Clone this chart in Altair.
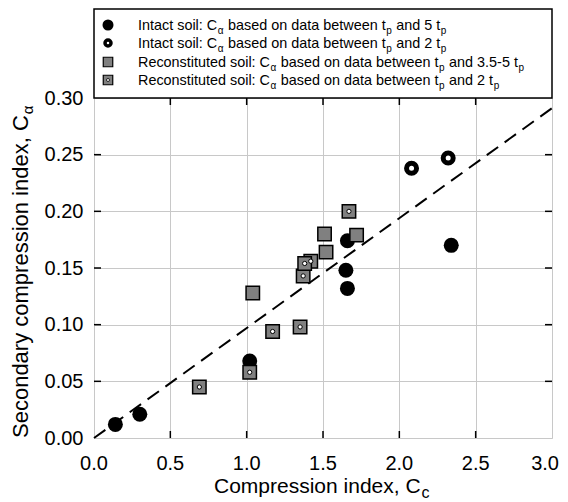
import altair as alt
import pandas as pd

# ---------------- data ----------------
intact5_x = [0.14, 0.30, 1.02, 1.66, 1.65, 1.66, 2.34]
intact5_y = [0.012, 0.021, 0.068, 0.174, 0.148, 0.132, 0.170]
intact2_x = [2.08, 2.32]
intact2_y = [0.238, 0.247]
recon5_x = [1.04, 1.51, 1.52, 1.72]
recon5_y = [0.128, 0.180, 0.164, 0.179]
recon2_x = [0.69, 1.02, 1.17, 1.35, 1.42, 1.37, 1.38, 1.67]
recon2_y = [0.045, 0.058, 0.094, 0.098, 0.156, 0.143, 0.154, 0.200]
line_x = [0.0, 3.0]
line_y = [0.0, 0.291]
x_ticks = [0.0, 0.5, 1.0, 1.5, 2.0, 2.5, 3.0]
y_ticks = [0.00, 0.05, 0.10, 0.15, 0.20, 0.25, 0.30]

legend_rows = [
    ["Intact soil: C", "α", " based on data between t", "p", " and 5 t", "p"],
    ["Intact soil: C", "α", " based on data between t", "p", " and 2 t", "p"],
    ["Reconstituted soil: C", "α", " based on data between t", "p", " and 3.5-5 t", "p"],
    ["Reconstituted soil: C", "α", " based on data between t", "p", " and 2 t", "p"],
]

# ---------------- layout ----------------
W, H = 458, 340
XMAX, YMAX = 3.0, 0.30
FONT = "Liberation Sans"
GRAY = "#808080"

xscale = alt.Scale(domain=[0, XMAX], nice=False, zero=False)
yscale = alt.Scale(domain=[0, YMAX], nice=False, zero=False)

xaxis = alt.Axis(values=x_ticks, title=None, ticks=False, domain=False, labels=False,
                 grid=True, gridColor="#c8c8c8", gridWidth=1)
yaxis = alt.Axis(values=y_ticks, format=".2f", title=None, ticks=False, domain=False,
                 grid=True, gridColor="#c8c8c8", gridWidth=1, labelFont=FONT,
                 labelFontSize=20, labelColor="black", labelPadding=11,
                 labelFlush=False, labelOverlap=False)


def X(f):
    return alt.X(f, type="quantitative", scale=xscale, axis=xaxis)


def Y(f):
    return alt.Y(f, type="quantitative", scale=yscale, axis=yaxis)


def px2x(px):
    return px / W * XMAX


def px2y(py):
    return YMAX - py / H * YMAX


# Arial / Liberation Sans advance widths (per 1000 em)
AW = {'I': 278, 'n': 556, 't': 278, 'a': 556, 'c': 500, ' ': 278, 's': 500, 'o': 556,
      'i': 222, 'l': 222, ':': 278, 'C': 722, 'R': 722, 'e': 556, 'u': 556, 'd': 556,
      'b': 556, 'w': 722, 'p': 556, '5': 556, '2': 556, '3': 556, '.': 278, '-': 333,
      'α': 578, 'S': 667, 'y': 500, 'r': 333, 'm': 833, 'x': 500, ',': 278}


def tw(s, size):
    return sum(AW.get(ch, 556) for ch in s) / 1000.0 * size


one = pd.DataFrame({"k": [0]})

# ---------------- data layers ----------------
dline = pd.DataFrame({"x": line_x, "y": line_y})
line = alt.Chart(dline).mark_line(color="black", strokeWidth=2, strokeDash=[14, 8]).encode(
    x=X("x"), y=Y("y"))

dxt = pd.DataFrame({"x": x_ticks[1:-1]})
dyt = pd.DataFrame({"y": y_ticks[1:-1]})
tk = dict(color="black", strokeWidth=1.5)
ticks = [
    alt.Chart(dxt).mark_rule(**tk).encode(x=X("x"), y=alt.value(H), y2=alt.value(H - 7)),
    alt.Chart(dxt).mark_rule(**tk).encode(x=X("x"), y=alt.value(0), y2=alt.value(7)),
    alt.Chart(dyt).mark_rule(**tk).encode(y=Y("y"), x=alt.value(0), x2=alt.value(7)),
    alt.Chart(dyt).mark_rule(**tk).encode(y=Y("y"), x=alt.value(W), x2=alt.value(W - 7)),
]

# x tick labels (last one kept inside the page)
dxl = pd.DataFrame({"x": x_ticks[:-1], "t": [f"{v:.1f}" for v in x_ticks[:-1]]})
dxl_last = pd.DataFrame({"x": x_ticks[-1:], "t": [f"{v:.1f}" for v in x_ticks[-1:]]})
xlab = alt.Chart(dxl).mark_text(align="center", baseline="alphabetic", font=FONT,
                                fontSize=20, color="black").encode(
    x=X("x"), y=alt.value(H + 32), text="t:N")
xlab_last = alt.Chart(dxl_last).mark_text(align="right", baseline="alphabetic", font=FONT,
                                          fontSize=20, color="black", dx=7).encode(
    x=X("x"), y=alt.value(H + 32), text="t:N")

d1 = pd.DataFrame({"x": intact5_x, "y": intact5_y})
d2 = pd.DataFrame({"x": intact2_x, "y": intact2_y})
d3 = pd.DataFrame({"x": recon5_x, "y": recon5_y})
d4 = pd.DataFrame({"x": recon2_x, "y": recon2_y})

c1 = alt.Chart(d1).mark_point(shape="circle", filled=True, color="black", size=225, opacity=1).encode(
    x=X("x"), y=Y("y"))
c2 = alt.Chart(d2).mark_point(shape="circle", fill="white", stroke="black", strokeWidth=5,
                              size=100, opacity=1).encode(x=X("x"), y=Y("y"))
c3 = alt.Chart(d3).mark_point(shape="square", fill=GRAY, stroke="black", strokeWidth=1.5,
                              size=180, opacity=1).encode(x=X("x"), y=Y("y"))
c4a = alt.Chart(d4).mark_point(shape="square", fill=GRAY, stroke="black", strokeWidth=1.5,
                               size=180, opacity=1).encode(x=X("x"), y=Y("y"))
c4b = alt.Chart(d4).mark_point(shape="circle", fill="white", stroke="black", strokeWidth=1,
                               size=18, opacity=1).encode(x=X("x"), y=Y("y"))

# ---------------- legend ----------------
box = alt.Chart(one).mark_rect(fill="white", stroke="black", strokeWidth=1.5).encode(
    x=alt.value(0), x2=alt.value(W), y=alt.value(-89), y2=alt.value(0))

row_c = [-73, -55, -36, -18]
sym_x = 14
leg_syms = [
    alt.Chart(one).mark_point(shape="circle", filled=True, color="black", size=121, opacity=1).encode(
        x=alt.value(sym_x), y=alt.value(row_c[0])),
    alt.Chart(one).mark_point(shape="circle", fill="white", stroke="black", strokeWidth=3.5,
                              size=36, opacity=1).encode(x=alt.value(sym_x), y=alt.value(row_c[1])),
    alt.Chart(one).mark_point(shape="square", fill=GRAY, stroke="black", strokeWidth=1.2,
                              size=90, opacity=1).encode(x=alt.value(sym_x), y=alt.value(row_c[2])),
    alt.Chart(one).mark_point(shape="square", fill=GRAY, stroke="black", strokeWidth=1.2,
                              size=90, opacity=1).encode(x=alt.value(sym_x), y=alt.value(row_c[3])),
    alt.Chart(one).mark_point(shape="circle", fill="white", stroke="black", strokeWidth=0.8,
                              size=9, opacity=1).encode(x=alt.value(sym_x), y=alt.value(row_c[3])),
]

FS, SFS = 14.4, 10
main_pieces, sub_pieces = [], []
for r, segs in enumerate(legend_rows):
    xpos = 44.0
    base = row_c[r] + 5
    for i, s in enumerate(segs):
        if i % 2 == 0:
            lead = len(s) - len(s.lstrip(" "))
            xpos += tw(" " * lead, FS)
            s = s.lstrip(" ")
            main_pieces.append({"x": px2x(xpos), "y": px2y(base), "t": s})
            xpos += tw(s, FS)
        else:
            sub_pieces.append({"x": px2x(xpos + 0.5), "y": px2y(base + 4), "t": s})
            xpos += tw(s, SFS) + 1
leg_main = alt.Chart(pd.DataFrame(main_pieces)).mark_text(
    align="left", baseline="alphabetic", font=FONT, fontSize=FS, color="black").encode(
    x=X("x"), y=Y("y"), text="t:N")
leg_sub = alt.Chart(pd.DataFrame(sub_pieces)).mark_text(
    align="left", baseline="alphabetic", font=FONT, fontSize=SFS, color="black").encode(
    x=X("x"), y=Y("y"), text="t:N")

# ---------------- axis titles ----------------
YT_FS, XT_FS = 22, 21
ytitle = "Secondary compression index, C"
xtitle = "Compression index, C"
yt = alt.Chart(one).mark_text(align="left", baseline="alphabetic", angle=270, font=FONT,
                              fontSize=YT_FS, color="black").encode(
    x=alt.value(-66), y=alt.value(H), text=alt.value(ytitle))
yts = alt.Chart(one).mark_text(align="left", baseline="alphabetic", angle=270, font=FONT,
                               fontSize=15, color="black").encode(
    x=alt.value(-61), y=alt.value(H - tw(ytitle, YT_FS) - 1), text=alt.value("α"))
xt = alt.Chart(one).mark_text(align="left", baseline="alphabetic", font=FONT,
                              fontSize=XT_FS, color="black").encode(
    x=alt.value(120), y=alt.value(395), text=alt.value(xtitle))
xts = alt.Chart(one).mark_text(align="left", baseline="alphabetic", font=FONT,
                               fontSize=16, color="black").encode(
    x=alt.value(120 + tw(xtitle, XT_FS) + 1), y=alt.value(400), text=alt.value("c"))

chart = alt.layer(
    line, *ticks, xlab, xlab_last, c1, c2, c3, c4a, c4b, box, *leg_syms, leg_main, leg_sub,
    yt, yts, xt, xts
).properties(
    width=W, height=H,
    autosize=alt.AutoSizeParams(type="none"),
    padding={"left": 86, "top": 90, "right": 8, "bottom": 64},
).configure_view(stroke="black", strokeWidth=2).configure(background="white")

chart.save("out.html", embed_options={"renderer": "svg", "actions": False})
